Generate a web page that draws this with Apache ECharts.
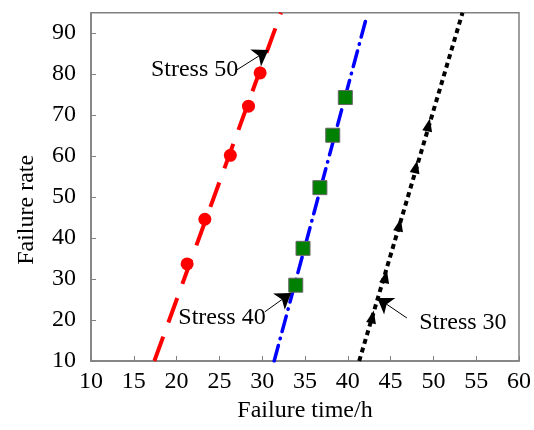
<!DOCTYPE html>
<html><head><meta charset="utf-8">
<script src="https://cdn.jsdelivr.net/npm/echarts@6/dist/echarts.min.js"></script>
<style>html,body{margin:0;padding:0;background:#fff}#c{width:534px;height:430px}</style>
</head><body><div id="c"></div>
<script>
// Data
const xTicks = [10,15,20,25,30,35,40,45,50,55,60];
const yTicks = [10,20,30,40,50,60,70,80,90];
const stress50Points = [[21.23,33.7],[23.3,44.6],[26.28,60.2],[28.4,72.2],[29.76,80.3]];
const stress40Points = [[33.92,28.5],[34.77,37.5],[36.74,52.3],[38.24,65.1],[39.71,74.3]];
const stress30Points = [[42.87,20.8],[44.41,30.6],[46.03,43.2],[47.96,57.4],[49.43,67.6]];
const stress50Fit = [[17.4,10],[32.2,95]];
const stress40Fit = [[31.4,10],[42.06,92.9]];
const stress30Fit = [[41.33,10],[53.4,95]];
// annotations: [label, textPos, arrowStart, arrowTip]
const annotations = [
  ['Stress 50', [22.1,81.0], [27.0,81.0], [30.72,85.9]],
  ['Stress 40', [25.3,20.5], [30.3,22.0], [33.38,26.6]],
  ['Stress 30', [53.45,19.3], [46.9,20.5], [43.45,25.4]]
];

const FONT = '"Liberation Serif","DejaVu Serif",serif';
const chart = echarts.init(document.getElementById('c'), null, {renderer:'canvas'});
const series = [
  {type:'line', data:stress50Fit, symbol:'none', z:2,
   lineStyle:{color:'#ff0000', width:4, type:[26,15]}},
  {type:'line', data:stress40Fit, symbol:'none', z:2,
   lineStyle:{color:'#0000ff', width:3.5, type:[16,7,0.5,7], cap:'round'}},
  {type:'line', data:stress30Fit, symbol:'none', z:2,
   lineStyle:{color:'#000000', width:4, type:[5,4]}},
  {type:'scatter', data:stress50Points, symbol:'circle', symbolSize:13, z:3,
   itemStyle:{color:'#ff0000', opacity:1}},
  {type:'scatter', data:stress40Points, symbol:'rect', symbolSize:14, z:3,
   itemStyle:{color:'#008000', borderColor:'#666', borderWidth:1, opacity:1}},
  {type:'scatter', data:stress30Points, symbol:'triangle', symbolSize:[10,13], symbolRotate:-12, z:3,
   itemStyle:{color:'#000', opacity:1}},
  {type:'scatter', data:annotations.map(a=>({value:a[1], name:a[0]})), symbolSize:1, z:5,
   itemStyle:{opacity:0},
   label:{show:true, position:'inside', formatter:p=>p.name, color:'#000', opacity:1, fontFamily:FONT, fontSize:24}},
  {type:'line', data:[], z:4,
   markLine:{silent:true, symbol:['none','arrow'], symbolSize:15, animation:false,
     label:{show:false},
     itemStyle:{color:'#000'},
     lineStyle:{color:'#000', width:1, type:'solid', opacity:1},
     data:annotations.map(a=>[{coord:a[2]},{coord:a[3]}])}}
];
chart.setOption({
  animation:false,
  backgroundColor:'#fff',
  grid:{left:91, right:11, top:12.7, bottom:69, show:true, borderColor:'#808080', borderWidth:1.5, backgroundColor:'transparent'},
  xAxis:{type:'value', min:10, max:60, interval:5,
    name:'Failure time/h', nameLocation:'middle', nameGap:38,
    nameTextStyle:{fontFamily:FONT, fontSize:24, color:'#000'},
    axisLine:{lineStyle:{color:'#808080', width:1.5}},
    axisTick:{inside:true, length:5, lineStyle:{color:'#808080'}, customValues:xTicks},
    axisLabel:{fontFamily:FONT, fontSize:24, color:'#000', margin:9, customValues:xTicks},
    splitLine:{show:false}},
  yAxis:{type:'value', min:10, max:95, interval:10,
    name:'Failure rate', nameLocation:'middle', nameGap:52,
    nameTextStyle:{fontFamily:FONT, fontSize:24, color:'#000', padding:[0,46,0,0]},
    axisLine:{show:true, lineStyle:{color:'#808080', width:1.5}},
    axisTick:{show:true, inside:true, length:5, lineStyle:{color:'#808080'}, customValues:yTicks},
    axisLabel:{fontFamily:FONT, fontSize:24, color:'#000', margin:15, customValues:yTicks},
    splitLine:{show:false}},
  series:series
});
</script></body></html>
